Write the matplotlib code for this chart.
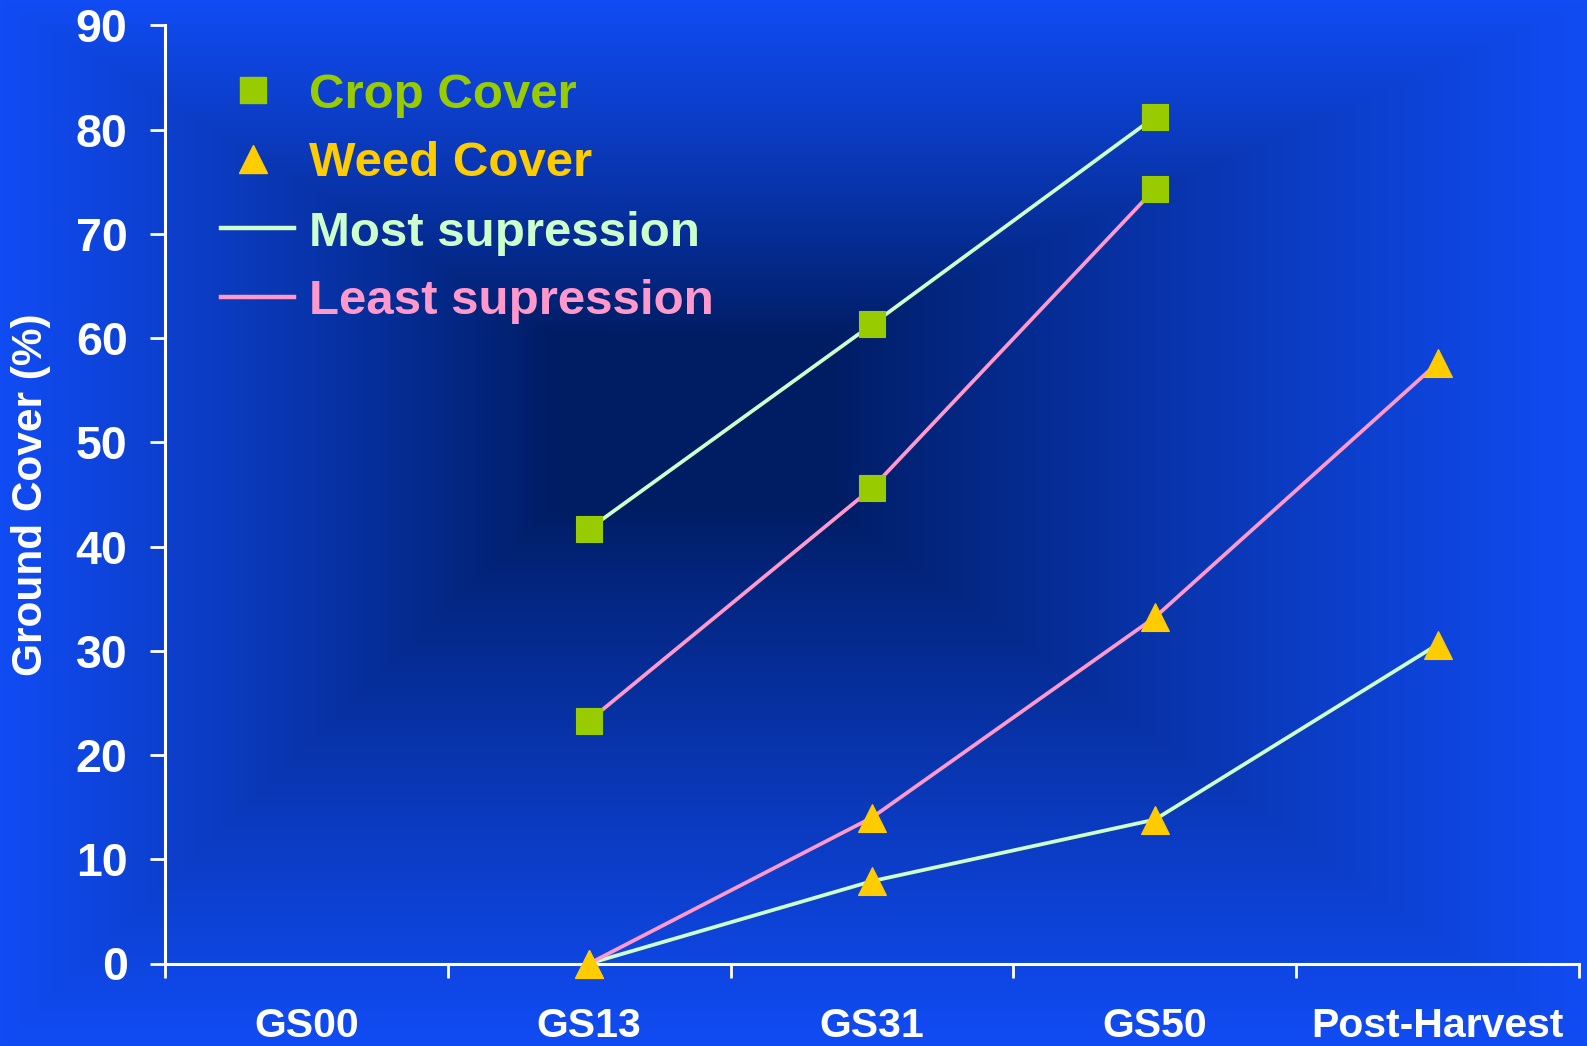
import numpy as np
import matplotlib

matplotlib.use("Agg")
import matplotlib.pyplot as plt
from matplotlib.ticker import FixedLocator, NullFormatter

# growth stages on the x axis
stages = ["GS00", "GS13", "GS31", "GS50", "Post-Harvest"]

# ground cover (%) per stage; None where nothing was recorded
crop_most = [None, 41.7, 61.3, 81.2, None]
crop_least = [None, 23.3, 45.6, 74.3, None]
weed_most = [None, 0.0, 7.9, 13.8, 30.6]
weed_least = [None, 0.0, 14.0, 33.2, 57.6]

GREEN, GOLD = "#99CC00", "#FFCC00"
MINT, PINK = "#CCFFCC", "#FF99CC"
WHITE = "white"
FONT = ["Liberation Sans", "Arial", "DejaVu Sans"]
NARROW = ["Liberation Sans Narrow", "Liberation Sans", "DejaVu Sans"]

W, H = 1587, 1046
fig = plt.figure(figsize=(W / 100, H / 100), dpi=100)

# rectangular "from centre" slide gradient
bg = fig.add_axes([0, 0, 1, 1], zorder=0)
yy, xx = np.mgrid[0:H, 0:W].astype(float)
x0, x1, y0, y1 = 552, 830, 334, 506
t = np.maximum.reduce([
    np.clip((x0 - xx) / x0, 0, None),
    np.clip((xx - x1) / (W - x1), 0, None),
    np.clip((y0 - yy) / y0, 0, None),
    np.clip((yy - y1) / (H - y1), 0, None),
])
t = np.clip(t, 0, 1) ** 0.85
dark = np.array([0, 28, 98]) / 255
bright = np.array([17, 76, 244]) / 255
img = dark[None, None, :] * (1 - t[..., None]) + bright[None, None, :] * t[..., None]
bg.imshow(img, aspect="auto", interpolation="bilinear")
bg.axis("off")

ax = fig.add_axes([165 / W, 1 - 963.5 / H, (1579 - 165) / W, (963.5 - 25.3) / H], zorder=1)
ax.patch.set_alpha(0)

xs = np.arange(len(stages)) + 0.5


def _series(vals):
    idx = [i for i, v in enumerate(vals) if v is not None]
    return xs[idx], [vals[i] for i in idx]


SQ, TRI = 18.5, 20.5
for vals, lc, mk, mc, ms in [
    (crop_most, MINT, "s", GREEN, SQ),
    (crop_least, PINK, "s", GREEN, SQ),
    (weed_most, MINT, "^", GOLD, TRI),
    (weed_least, PINK, "^", GOLD, TRI),
]:
    sx, sy = _series(vals)
    ax.plot(sx, sy, color=lc, lw=2.7, zorder=2, clip_on=False)
    ax.plot(sx, sy, ls="none", marker=mk, ms=ms, mfc=mc, mec=mc, mew=0.8,
            zorder=3, clip_on=False)

ax.set_xlim(0, len(stages))
ax.set_ylim(0, 90)
ax.set_yticks(np.arange(0, 91, 10))
ax.xaxis.set_major_locator(FixedLocator(np.arange(len(stages) + 1)))
ax.xaxis.set_major_formatter(NullFormatter())
ax.xaxis.set_minor_locator(FixedLocator(xs))
ax.set_xticklabels(stages, minor=True)

for side in ("top", "right"):
    ax.spines[side].set_visible(False)
for side in ("left", "bottom"):
    ax.spines[side].set_color(WHITE)
    ax.spines[side].set_linewidth(2.2)

ax.tick_params(axis="y", which="major", direction="out", length=11, width=2,
               color=WHITE, labelcolor=WHITE, pad=16)
ax.tick_params(axis="x", which="major", direction="out", length=10, width=2,
               color=WHITE)
ax.tick_params(axis="x", which="minor", length=0, pad=31, labelcolor=WHITE)
for lab in ax.get_yticklabels():
    lab.set_fontfamily(FONT)
    lab.set_fontweight("bold")
    lab.set_fontsize(33.5)
for lab in ax.get_xticklabels(minor=True):
    lab.set_fontfamily(NARROW)
    lab.set_fontweight("bold")
    lab.set_fontsize(29.5)

fig.text(31 / W, 1 - 495 / H, "Ground Cover (%)", rotation=90, ha="center",
         va="center", color=WHITE, fontsize=30.5, fontweight="bold", family=FONT)

# hand-placed key in the upper left of the plot
rows = [
    ("Crop Cover", GREEN, "s", SQ),
    ("Weed Cover", GOLD, "^", TRI),
    ("Most supression", MINT, None, 0),
    ("Least supression", PINK, None, 0),
]
for i, (label, col, mk, ms) in enumerate(rows):
    yf = 1 - (90 + 69 * i) / H
    if mk:
        fig.lines.append(plt.Line2D([253 / W], [yf], ls="none", marker=mk, ms=ms,
                                    mfc=col, mec=col, transform=fig.transFigure))
    else:
        fig.lines.append(plt.Line2D([221 / W, 294 / W], [yf, yf], color=col, lw=3.2,
                                    transform=fig.transFigure))
    fig.text(309 / W, yf, label, color=col, fontsize=35.5, fontweight="bold",
             family=FONT, ha="left", va="center_baseline")

fig.savefig("out.png", dpi=100)
